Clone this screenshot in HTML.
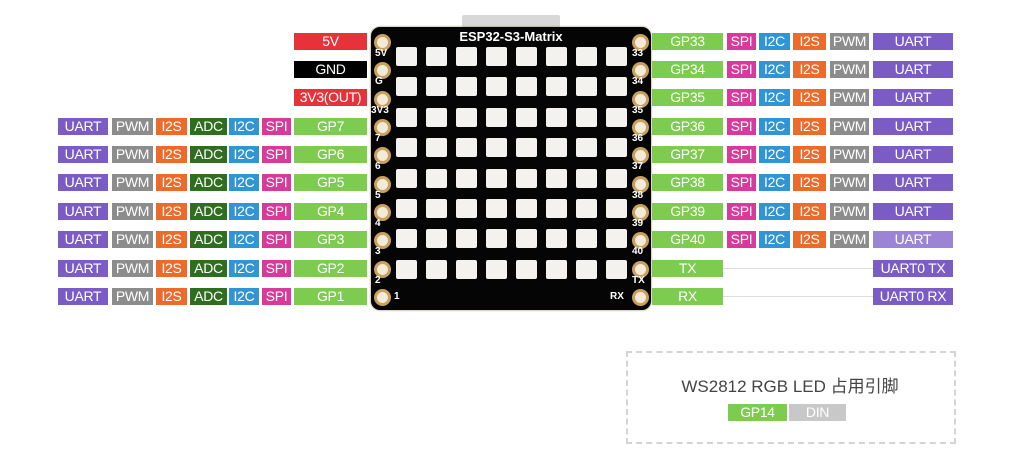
<!DOCTYPE html>
<html><head><meta charset="utf-8"><style>
body{margin:0;width:1033px;height:469px;background:#fff;position:relative;overflow:hidden;font-family:"Liberation Sans","Noto Sans CJK SC",sans-serif}
.b{position:absolute;height:17px;line-height:17px;color:#fff;font-size:14px;text-align:center;letter-spacing:-0.3px}
.p{position:absolute;width:11px;height:11px;border-radius:50%;border:3px solid #c9a15c;background:#f3ead8;box-sizing:content-box}
.led{position:absolute;width:21px;height:19px;background:#f4f2ee;border-radius:2px}
.lbl{position:absolute;color:#fff;font-weight:bold;font-size:10px}
</style></head><body>
<div style="position:absolute;left:462px;top:15px;width:98px;height:14px;background:#d8d8d8;border-radius:2px"></div>
<div style="position:absolute;left:371px;top:27px;width:280px;height:283px;background:#050505;border-radius:9px;box-shadow:0 0 2px #a08050"></div>
<div style="position:absolute;left:371px;top:29px;width:280px;text-align:center;color:#fff;font-weight:bold;font-size:13px">ESP32-S3-Matrix</div>
<div id="c"></div>
<div style="position:absolute;left:626px;top:351px;width:326px;height:89px;border:2px dashed #d4d4d4"></div>
<div style="position:absolute;left:626px;top:372px;width:328px;text-align:center;font-size:17px;color:#444">WS2812 RGB LED 占用引脚</div>
<div class="b" style="left:728px;top:404px;width:59px;background:#7dcb4f">GP14</div>
<div class="b" style="left:789px;top:404px;width:57px;background:#c8c8c8">DIN</div>
<script>
var h='';
var ys=[41,69,97.5,126,154,182.5,211,239,268,296];
function b(x,y,w,c,t){h+='<div class="b" style="left:'+x+'px;top:'+(y-8.5)+'px;width:'+w+'px;background:'+c+'">'+t+'</div>';}
var G='#7dcb4f',U='#7b5cc4',P='#8c8c8c',S='#ec6a2a',A='#2f6d1f',I='#3295d3',Sp='#d8399a';
b(294,ys[0],73,'#e8323a','5V');b(294,ys[1],73,'#000','GND');b(294,ys[2],73,'#e8323a','3V3(OUT)');
for(var i=3;i<10;i++){var y=ys[i];b(58,y,50,U,'UART');b(112,y,41,P,'PWM');b(156,y,31,S,'I2S');b(190,y,37,A,'ADC');b(229,y,30,I,'I2C');b(262,y,29,Sp,'SPI');b(294,y,73,G,'GP'+(10-i));}
for(var i=0;i<8;i++){var y=ys[i];b(652,y,71,G,'GP'+(33+i));b(727,y,29,Sp,'SPI');b(759,y,31,I,'I2C');b(793,y,33,S,'I2S');b(830,y,39,P,'PWM');b(873,y,80,i==7?'#9b84d6':U,'UART');}
['TX','RX'].forEach(function(t,k){var y=ys[8+k];b(652,y,71,G,t);h+='<div style="position:absolute;left:723px;top:'+y+'px;width:150px;height:1px;background:#ddd"></div>';b(873,y,80,U,'UART0 '+t);});
var ll=['5V','G','3V3','7','6','5','4','3','2','1'],rl=['33','34','35','36','37','38','39','40','TX','RX'];
for(var i=0;i<10;i++){var y=ys[i]-1;h+='<div class="p" style="left:374px;top:'+(y-6)+'px"></div><div class="p" style="left:632px;top:'+(y-6)+'px"></div>';
if(i<9){h+='<div class="lbl" style="left:'+(ll[i].length>2?371:375)+'px;top:'+(y+8)+'px">'+ll[i]+'</div><div class="lbl" style="left:632px;top:'+(y+8)+'px">'+rl[i]+'</div>';}}
h+='<div class="lbl" style="left:394px;top:291px">1</div><div class="lbl" style="left:610px;top:291px">RX</div>';
for(var r=0;r<8;r++)for(var c=0;c<8;c++)h+='<div class="led" style="left:'+(396+c*30)+'px;top:'+(47+r*30.4)+'px"></div>';
document.getElementById('c').innerHTML=h;
</script>
</body></html>
